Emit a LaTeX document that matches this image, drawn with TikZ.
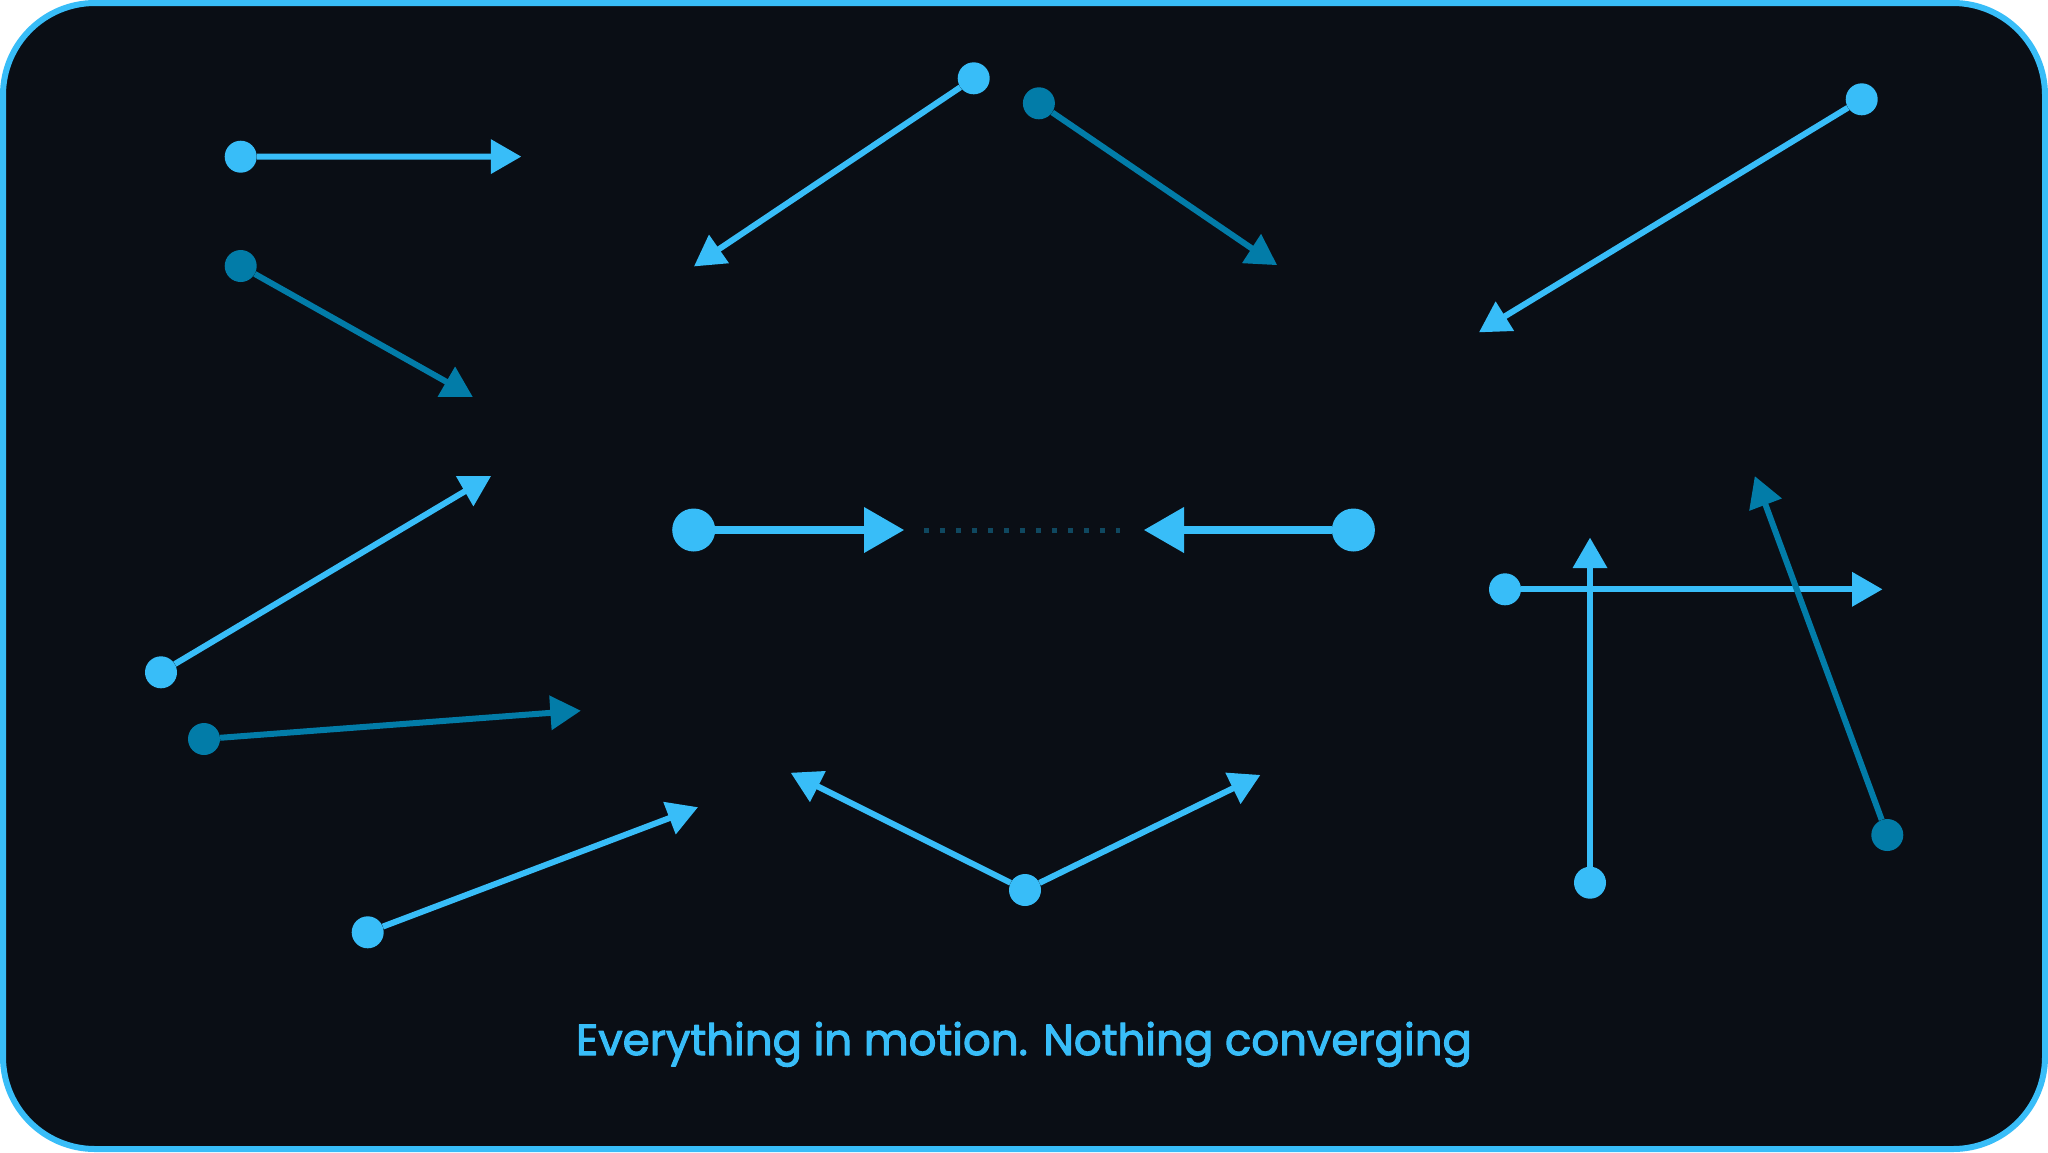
\documentclass[tikz,border=0pt]{standalone}
\usepackage{fontspec}
\newfontfamily\capfont{Poppins}[FakeBold=2.5]
\definecolor{bg}{HTML}{0A0E15}
\definecolor{lite}{HTML}{38BDF8}
\definecolor{deep}{HTML}{027CA8}
\definecolor{faint}{HTML}{0F4860}
\tikzset{
  dot/.style={circle, inner sep=0pt, minimum size=32pt, fill=#1},
  bigdot/.style={circle, inner sep=0pt, minimum size=43pt, fill=#1},
  ray/.style={line width=6pt, draw=#1},
  tri/.pic={\fill[#1] (0:20.2) -- (120:20.2) -- (240:20.2) -- cycle;}
}

\begin{document}
\begin{tikzpicture}[x=1pt, y=-1pt, line join=round]
\useasboundingbox (0,0) rectangle (2048,1152);
\fill[white] (0,0) rectangle (2048,1152);
\draw[lite, line width=6pt, fill=bg, rounded corners=92pt] (3,3) rectangle (2045,1149);

\node[dot=lite] (d1) at (240.7,156.7) {};
\node[dot=deep] (d2) at (240.7,266) {};
\node[dot=lite] (d3) at (161,672.3) {};
\node[dot=deep] (d4) at (204,739) {};
\node[dot=lite] (d5) at (367.7,932.3) {};
\node[dot=lite] (d6) at (973.7,78.3) {};
\node[dot=deep] (d7) at (1038.9,103.3) {};
\node[dot=lite] (d8) at (1861.7,99.3) {};
\node[dot=lite] (d9) at (1025,890) {};
\node[dot=lite] (d10) at (1505,589.3) {};
\node[dot=lite] (d11) at (1590,882.7) {};
\node[dot=deep] (d12) at (1887.3,835) {};
\node[bigdot=lite] (cl) at (693.7,530) {};
\node[bigdot=lite] (cr) at (1353.4,530) {};

\coordinate (e1) at (500.9,156.6);
\coordinate (e2) at (455.1,386.7);
\coordinate (e3) at (473.4,486.2);
\coordinate (e4) at (560.5,712.1);
\coordinate (e5) at (678.9,814.5);
\coordinate (e6) at (710.7,254.7);
\coordinate (e7) at (1260,254);
\coordinate (e8) at (1496.3,321.5);
\coordinate (e9) at (808.9,782);
\coordinate (e10) at (1242,783.9);
\coordinate (e11) at (1862.1,589.3);
\coordinate (e12) at (1590,558);
\coordinate (e13) at (1762,495.2);
\coordinate (el) at (877.3,530);
\coordinate (er) at (1170.7,530);
\coordinate (g1) at (924,530);
\coordinate (g2) at (1120,530);

\draw[ray=lite] (d1) -- (e1);
\draw[ray=deep] (d2) -- (e2);
\draw[ray=lite] (d3) -- (e3);
\draw[ray=deep] (d4) -- (e4);
\draw[ray=lite] (d5) -- (e5);
\draw[ray=lite] (d6) -- (e6);
\draw[ray=deep] (d7) -- (e7);
\draw[ray=lite] (d8) -- (e8);
\draw[ray=lite] (d9) -- (e9);
\draw[ray=lite] (d9) -- (e10);
\draw[ray=lite] (d10) -- (e11);
\draw[ray=lite] (d11) -- (e12);
\draw[ray=deep] (d12) -- (e13);
\draw[ray=lite, line width=8pt] (cl) -- (el);
\draw[ray=lite, line width=8pt] (cr) -- (er);
\draw[faint, line width=5pt, dash pattern=on 5pt off 11pt] (g1) -- (g2);

\pic at (e1) {tri=lite};
\pic[rotate=90] at (e2) {tri=deep};
\pic[rotate=-90] at (e3) {tri=lite};
\pic[rotate=4] at (e4) {tri=deep};
\pic[rotate=21] at (e5) {tri=lite};
\pic[rotate=95] at (e6) {tri=lite};
\pic[rotate=87] at (e7) {tri=deep};
\pic[rotate=92] at (e8) {tri=lite};
\pic[rotate=-87] at (e9) {tri=lite};
\pic[rotate=-94] at (e10) {tri=lite};
\pic at (e11) {tri=lite};
\pic[rotate=90] at (e12) {tri=lite};
\pic[rotate=110.7] at (e13) {tri=deep};
\pic[scale=1.317] at (el) {tri=lite};
\pic[scale=1.317, rotate=180] at (er) {tri=lite};

\node[anchor=base, text=lite, font=\capfont\fontsize{43.5}{50}\selectfont] (caption) at (1024,1055) {Everything in motion. Nothing converging};
\end{tikzpicture}
\end{document}
